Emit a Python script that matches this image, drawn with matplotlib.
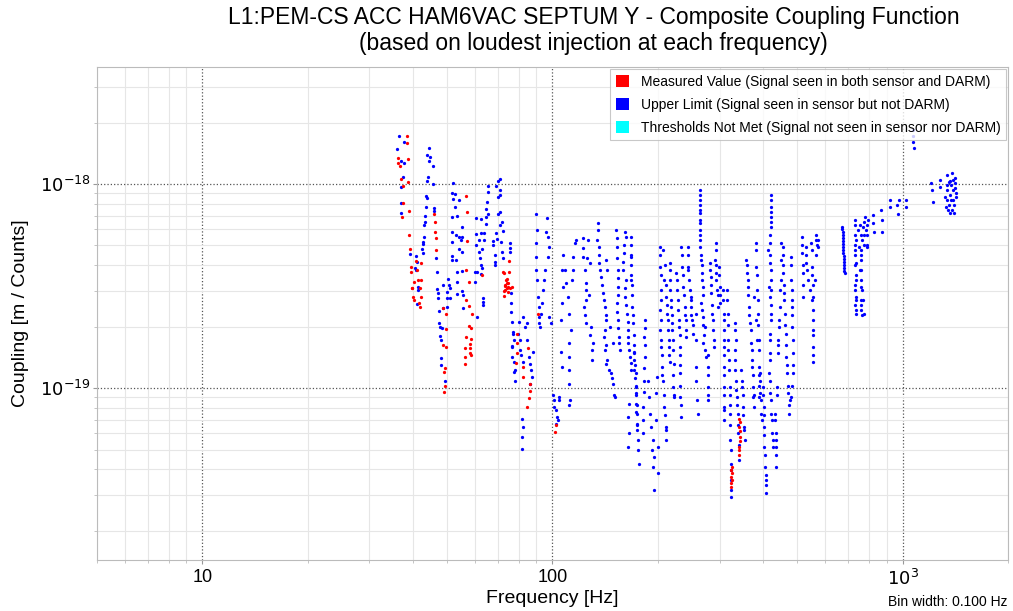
import matplotlib
matplotlib.use("Agg")
import matplotlib.pyplot as plt
from matplotlib.patches import Patch
from matplotlib.ticker import FixedLocator, NullFormatter, LogLocator

plt.rcParams['font.family'] = ['Liberation Sans', 'DejaVu Sans']

title = "L1:PEM-CS ACC HAM6VAC SEPTUM Y - Composite Coupling Function\n(based on loudest injection at each frequency)"
xlabel = "Frequency [Hz]"
ylabel = "Coupling [m / Counts]"
bin_note = "Bin width: 0.100 Hz"
legend_labels = ["Measured Value (Signal seen in both sensor and DARM)",
                 "Upper Limit (Signal seen in sensor but not DARM)",
                 "Thresholds Not Met (Signal not seen in sensor nor DARM)"]
x_ticks = [10, 100, 1000]
x_ticklabels = ["10", "100", "$10^3$"]
y_ticks = [1e-19, 1e-18]
y_ticklabels = ["$10^{-19}$", "$10^{-18}$"]

# Coupling values are in units of 1e-19 m/Counts
meas_freq = [38.4, 38.5, 36.2, 38.6, 36.1, 36.6, 36.8, 37.5, 38.7, 37.3, 37.2, 38.8, 39.0, 39.1, 39.3, 39.5, 40.3, 39.6, 39.8, 41.2, 42.2, 41.7, 40.0, 40.2, 42.0, 41.6, 41.8, 40.8, 42.2, 40.9,
             46.0, 46.1, 46.2, 46.4, 46.4, 48.7, 49.6, 49.5, 48.8, 49.5, 49.2, 48.9, 49.2, 49.0,
             56.8, 56.9, 56.9, 56.8, 57.8, 56.5, 57.8, 58.8, 57.6, 58.6, 56.5, 58.4, 58.0, 56.4, 58.3, 58.2, 56.2, 58.4, 56.1,
             62.7,
             72.4, 75.0, 73.7, 74.5, 73.2, 74.8, 73.9, 72.9, 75.4, 72.6, 75.0, 72.8, 73.4, 76.4, 73.9, 74.3, 73.4, 74.8,
             79.1, 79.3, 79.1, 78.8, 82.6, 82.6, 85.0, 86.0, 86.4, 85.6, 84.5,
             91.0, 102.0, 101.5,
             326.1, 326.1, 325.3, 324.0, 324.6, 324.6, 323.6,
             342.1, 342.1, 343.7, 342.1, 342.1, 343.3, 342.7, 342.7, 342.1]
meas_coup = [17.2, 15.8, 13.4, 13.3, 12.7, 12.2, 10.6, 9.8, 10.2, 8.1, 6.9, 7.4, 5.6, 4.8, 3.9, 3.7, 3.3, 3.1, 3.1, 3.4, 3.4, 3.1, 2.8, 2.7, 2.8, 2.6, 2.5, 4.2, 4.1, 3.8,
             7.10, 6.49, 5.80, 5.46, 4.75, 2.48, 2.30, 1.94, 1.62, 1.59, 1.26, 1.20, 1.02, 0.96,
             8.73, 7.27, 5.27, 3.78, 3.32, 2.70, 2.52, 2.30, 2.02, 1.98, 1.78, 1.75, 1.64, 1.58, 1.57, 1.48, 1.42, 1.45, 1.32,
             3.58,
             3.69, 3.72, 3.38, 3.26, 3.20, 3.14, 3.08, 2.99, 3.08, 2.82, 4.21, 3.65, 3.02, 3.14, 3.27, 3.41, 3.16, 2.96,
             1.85, 1.66, 1.49, 1.33, 1.27, 1.14, 1.58, 1.05, 0.97, 0.89, 0.81,
             2.32, 0.659, 0.611,
             0.411, 0.382, 0.354, 0.328, 0.396, 0.366, 0.342,
             0.710, 0.646, 0.577, 0.516, 0.469, 0.681, 0.616, 0.550, 0.497]

upper_freq = [36.4, 37.7, 36.0, 36.8, 37.6, 37.4, 37.0, 37.0, 37.0, 39.2, 40.8, 40.9, 40.5, 40.7, 41.2, 41.3, 41.1,
              44.3, 43.7, 44.6, 44.5, 45.6, 44.0, 43.7, 45.6, 43.5, 43.9, 43.4, 43.2, 43.2, 42.9, 42.9, 42.6, 42.7, 42.4, 42.8,
              45.8, 45.8, 46.5, 46.7, 46.9, 47.2, 47.2, 47.3, 47.4, 47.6, 48.3, 47.6, 48.1, 47.9, 47.9, 49.2,
              52.1, 51.8, 52.7, 52.1, 53.9, 52.5, 51.8, 53.5, 55.0, 51.7, 52.9, 54.2, 54.7, 55.2, 51.6, 54.1, 55.1, 51.6, 52.9, 51.5, 53.2, 55.3, 53.5, 50.2, 48.7, 50.5, 50.8, 49.8, 50.0, 50.9, 53.3, 55.2, 55.6, 55.6, 48.6, 49.8,
              60.5, 62.6, 64.7, 64.4, 60.3, 62.3, 63.9, 61.6, 63.8, 60.5, 62.8, 61.6, 61.9, 62.4, 62.8, 60.1, 60.8, 62.6, 59.9, 63.2, 63.4, 63.2, 60.8,
              70.6, 69.8, 69.1, 70.6, 70.9, 69.8, 65.6, 65.3, 65.0, 64.7, 65.3, 71.0, 69.8, 71.6, 71.0, 72.1, 69.1, 69.2, 67.5, 71.3, 67.8, 71.6, 68.3, 68.7, 72.1, 68.3,
              75.4, 75.4, 75.4, 75.9, 75.9, 75.9, 76.7, 77.2, 77.4, 76.4, 76.7, 77.5, 77.5, 77.9, 77.0, 76.7, 77.9,
              80.1, 79.8, 80.9, 80.5, 81.2, 82.3, 82.6, 83.7, 84.5, 84.5, 85.6, 86.4, 86.9, 87.5, 87.8, 86.5, 81.9, 82.2, 81.9, 81.9,
              89.8, 90.2, 89.8, 89.8, 89.8, 90.2, 90.8, 91.4, 91.8, 91.4, 96.3, 96.0, 97.0, 97.6, 97.0, 94.9, 94.3, 93.8, 93.5, 92.8, 98.0, 99.2, 92.2,
              100.2, 100.7, 101.3, 102.5, 102.9, 103.5, 104.2, 104.7, 102.0,
              107.0, 106.6, 107.0, 106.6, 106.1, 105.9, 106.6, 108.7, 109.4, 110.6, 111.8, 112.6, 111.8, 111.3, 111.3, 111.8, 112.3, 111.8, 114.3, 115.6, 116.9, 114.8, 113.8,
              122.6, 126.2, 122.1, 125.3, 127.6, 124.8, 127.0, 123.4, 124.3, 129.0, 130.4, 129.8, 134.7, 133.8, 136.2, 135.6, 137.8, 139.2, 140.8, 142.4, 142.4, 142.9, 139.9, 140.8, 141.8, 144.9, 147.2, 148.7, 150.4, 148.7, 145.5,
              152.1, 152.7, 153.7, 153.7, 152.7, 153.7, 154.7, 155.4, 160.6, 162.4, 159.6, 158.8, 161.7, 160.6, 163.5, 164.1, 164.1, 166.0, 167.9, 170.8, 171.5, 172.7, 173.5, 174.2, 164.9, 164.1, 165.2, 164.6,
              167.9, 167.9, 167.9, 169.0, 169.7, 171.5, 172.7, 173.5, 174.2, 175.3, 176.5,
              183.2, 182.8, 184.1, 182.3, 181.1, 181.1,
              187.2, 188.1, 189.3, 191.4, 193.5, 192.7, 193.5, 194.4, 195.6, 197.0, 197.8, 198.6, 199.9, 199.9,
              202.2, 203.1, 204.5, 202.2, 203.1, 204.5, 205.8, 206.6, 208.9, 210.3, 211.3, 206.6, 208.9, 211.3, 212.1, 213.5, 214.9, 215.9, 215.9, 216.9, 218.3, 219.8, 220.7, 221.7, 220.7, 223.1,
              225.6, 227.1, 228.0, 229.5, 231.7, 230.6, 231.7, 233.2, 233.2, 234.8, 235.7, 238.3, 239.9, 241.0, 243.5, 243.5, 245.1, 247.9, 249.0, 250.6, 251.7,
              257.3, 257.3, 258.4, 260.0, 256.2, 257.3, 263.0, 263.0, 263.0, 263.0, 263.0, 264.2, 266.0, 267.0, 268.8, 266.0, 268.8, 271.8, 270.0, 273.6,
              277.7, 277.7, 277.7, 280.9, 284.1, 284.1, 285.9, 287.1, 288.4, 290.3, 293.6, 292.2, 294.7, 296.7, 298.6, 300.0, 301.4,
              306.6, 308.6, 310.0, 310.0, 310.0, 308.6, 310.0, 310.0, 314.8, 316.9, 316.9, 318.3, 320.4, 320.4, 321.9, 324.0, 324.0,
              331.1, 333.3, 331.1, 333.3, 336.2, 338.4, 338.4, 340.6, 346.0, 348.3, 349.7, 351.3, 353.6,
              357.6, 359.0, 361.4, 363.9, 367.2, 369.6, 372.1, 373.5, 377.6, 380.2, 381.9, 384.5, 386.0, 388.5, 388.5, 388.5, 377.6, 381.9, 383.5, 373.5,
              390.3, 392.2, 393.0, 399.0, 400.8, 403.3, 403.3, 405.3, 406.1, 408.0,
              419.8, 419.8, 421.7, 421.7, 416.9, 418.8, 421.7, 418.8, 421.7, 416.9, 418.8, 415.0, 418.8, 421.7, 424.5, 426.1, 412.3, 415.0,
              430.8, 433.7, 435.7, 433.7, 437.5, 440.3, 443.3, 445.2, 448.8, 450.3, 450.3, 455.0, 455.0, 457.1, 460.1, 463.2, 465.3, 467.2, 470.3, 473.4, 475.5, 481.0, 481.0, 482.9, 484.2, 486.1, 486.1, 481.0,
              515.7, 517.0, 519.0, 519.0, 528.4, 530.9, 536.4, 542.3, 548.5, 552.1, 554.3, 554.3, 554.3, 554.3, 560.5, 566.8, 572.8, 572.8,
              672.5, 673.9, 675.1, 675.1, 676.9, 678.2, 678.2, 679.6, 682.8,
              729.2, 734.2, 734.2, 737.6, 734.2, 737.6, 745.4, 750.3, 753.6, 762.3, 770.4, 773.9, 770.4, 778.8, 787.7, 790.7, 796.0, 730.8, 732.8, 729.2, 758.6, 760.1, 762.3, 763.6,
              822.4, 824.7, 826.3, 869.2, 871.0, 872.8, 918.0, 922.5, 963.4, 967.9, 974.3, 1020, 1025,
              1070, 1072, 1073, 1075,
              1208, 1213, 1221, 1276, 1282, 1318, 1327, 1338, 1343, 1347, 1362, 1365, 1369, 1387, 1393, 1395, 1399, 1408, 1413, 1417]
upper_coup = [17.2, 16.0, 14.8, 13.0, 12.6, 10.8, 9.67, 8.10, 7.18, 4.52, 4.42, 4.16, 3.89, 3.79, 3.14, 3.02, 2.58,
              15.0, 13.9, 13.5, 13.0, 12.3, 10.8, 10.3, 9.97, 8.73, 8.57, 7.74, 6.99, 6.54, 6.30, 5.48, 5.21, 5.08, 4.79, 4.57,
              7.65, 7.37, 4.32, 3.69, 3.06, 2.91, 2.75, 2.39, 2.08, 2.00, 1.96, 1.80, 1.72, 1.40, 1.30, 1.08,
              10.1, 9.01, 8.93, 8.44, 8.35, 7.72, 6.92, 6.99, 6.18, 5.84, 5.62, 5.52, 5.31, 5.50, 5.18, 4.80, 4.66, 4.45, 4.24, 4.24, 3.72, 3.76, 3.32, 3.42, 3.20, 3.20, 3.08, 2.97, 2.77, 2.77, 2.89, 2.98, 2.86, 2.48, 2.46, 2.50,
              6.84, 6.74, 6.89, 6.35, 5.67, 5.73, 5.73, 5.31, 5.31, 5.02, 4.80, 4.66, 4.35, 4.01, 3.89, 3.69, 3.69, 3.62, 3.30, 2.77, 2.65, 2.55, 2.23,
              10.6, 10.3, 9.80, 9.35, 8.84, 8.66, 9.80, 9.11, 8.19, 7.54, 7.10, 7.27, 7.10, 6.54, 6.30, 5.88, 5.73, 5.36, 5.25, 5.18, 5.02, 4.66, 4.49, 4.16, 4.35, 4.01,
              5.12, 4.84, 4.66, 2.91, 2.60, 2.37, 2.10, 1.89, 1.73, 1.61, 1.42, 1.35, 1.20, 1.08, 1.85, 1.59, 1.23,
              2.11, 1.85, 1.72, 1.54, 1.45, 1.35, 2.24, 2.00, 2.08, 1.72, 1.42, 1.32, 1.23, 1.14, 1.51, 1.05, 0.710, 0.646, 0.577, 0.506,
              7.13, 5.95, 5.12, 4.40, 3.79, 3.38, 2.80, 2.50, 2.24, 2.08, 6.79, 5.84, 5.52, 4.93, 4.40, 3.79, 3.38, 3.02, 2.60, 2.32, 2.24, 2.08, 2.00,
              0.924, 0.873, 0.810, 0.780, 0.723, 0.697, 0.873, 0.906, 0.671,
              4.49, 3.79, 3.14, 2.60, 2.15, 1.51, 1.27, 3.79, 3.26, 2.80, 2.32, 1.92, 1.66, 1.42, 1.23, 1.05, 0.873, 0.825, 4.40, 5.12, 5.31, 3.79, 3.38,
              5.42, 5.31, 4.40, 4.32, 4.09, 3.26, 2.86, 2.50, 2.08, 2.00, 1.66, 1.37, 6.42, 5.31, 4.93, 4.09, 3.51, 2.91, 2.50, 2.15, 4.24, 3.79, 1.78, 1.54, 1.32, 1.23, 1.18, 1.05, 0.906, 1.66, 2.00,
              5.95, 4.93, 3.79, 3.14, 2.60, 2.15, 1.78, 1.54, 5.84, 5.52, 4.57, 3.79, 3.38, 2.80, 2.32, 1.92, 1.66, 1.42, 1.23, 1.51, 1.23, 1.01, 0.841, 0.671, 0.841, 0.723, 0.600, 0.516,
              5.52, 4.40, 3.38, 2.50, 2.08, 1.48, 1.18, 0.942, 0.751, 0.556, 0.427,
              2.15, 1.78, 1.42, 1.09, 0.810, 0.600,
              1.09, 0.906, 0.751, 0.646, 0.556, 0.497, 0.411, 0.316, 0.460, 0.697, 0.942, 1.14, 0.516, 0.382,
              4.93, 3.93, 3.02, 2.41, 1.92, 1.59, 1.27, 1.09, 0.810, 0.646, 0.556, 4.75, 3.38, 2.80, 2.32, 1.92, 1.59, 1.35, 4.09, 3.38, 2.50, 2.08, 1.72, 1.32, 1.01, 0.906,
              3.65, 3.02, 2.41, 2.00, 1.59, 1.18, 0.906, 0.723, 4.93, 3.93, 3.14, 2.50, 2.15, 1.78, 4.93, 3.93, 3.38, 2.80, 2.50, 2.15, 1.85,
              1.27, 1.09, 0.873, 0.751, 1.72, 2.32, 9.35, 7.89, 7.18, 6.42, 5.62, 4.93, 4.24, 3.65, 3.14, 2.60, 2.24, 2.00, 1.66, 1.42,
              1.27, 1.01, 0.873, 4.09, 3.51, 2.91, 2.32, 1.92, 1.59, 4.24, 5.12, 3.65, 3.02, 2.50, 3.93, 3.14, 2.60,
              3.02, 2.32, 1.92, 1.59, 1.27, 1.01, 0.810, 0.697, 3.02, 2.32, 1.72, 1.37, 1.01, 0.751, 0.556, 0.427, 0.293,
              2.08, 1.72, 1.37, 1.09, 0.906, 0.751, 0.600, 0.444, 1.23, 1.01, 0.810, 0.646, 0.556,
              4.24, 3.65, 3.14, 2.50, 2.08, 1.66, 1.27, 1.01, 0.810, 5.12, 3.93, 3.02, 2.32, 1.72, 1.27, 0.906, 2.80, 2.15, 1.72, 0.906,
              1.18, 0.942, 0.751, 1.01, 0.810, 0.646, 0.516, 0.411, 0.305, 0.354,
              8.84, 7.74, 6.92, 6.18, 5.12, 4.09, 3.38, 2.80, 2.32, 1.85, 1.48, 1.18, 0.942, 0.751, 0.600, 0.516, 4.75, 3.14,
              0.751, 0.600, 0.516, 0.411, 1.01, 1.48, 2.00, 2.50, 3.38, 5.12, 4.24, 4.93, 3.65, 2.91, 2.32, 1.85, 1.42, 1.18, 0.942, 0.751, 0.873, 4.40, 3.38, 2.50, 2.00, 1.48, 1.18, 0.906,
              5.52, 4.57, 3.65, 2.80, 4.93, 4.09, 3.38, 3.02, 5.12, 3.93, 2.80, 2.15, 1.59, 1.35, 3.38, 5.62, 5.31, 4.93,
              6.18, 5.82, 5.44, 5.08, 4.75, 4.44, 4.15, 3.88, 3.66,
              6.66, 5.31, 4.09, 3.38, 2.80, 2.32, 5.95, 4.93, 3.79, 3.14, 2.70, 2.32, 6.18, 6.92, 5.95, 4.93, 6.66, 4.75, 3.02, 2.55, 4.49, 2.70, 2.41, 5.31,
              7.05, 6.44, 5.84, 7.46, 6.66, 5.84, 8.35, 7.74, 7.89, 7.13, 8.35, 8.35, 7.69,
              18.4, 17.2, 16.1, 15.0,
              10.08, 9.35, 8.19, 10.5, 9.70, 8.66, 7.74, 11.1, 9.35, 7.46, 10.4, 8.84, 7.18, 11.3, 9.35, 8.35, 7.18, 10.7, 9.57, 8.66]

# further upper-limit points read along the dense vertical streaks
upper_freq_dense = [168.1, 168.1, 168.1, 168.1, 168.7, 168.7, 169.3, 170.4, 170.4, 172.1, 173.3, 173.8, 174.4, 175.5,
                    202.9, 203.5, 203.5, 203.5, 204.2, 204.9, 205.6, 207.6, 209.6, 210.3,
                    209.6, 210.3, 211.7, 213.1, 214.5, 215.2, 215.9, 217.3, 218.0, 218.8, 220.2, 220.9, 220.9, 222.4,
                    226.1, 227.6, 229.1, 230.6, 231.4, 230.6, 231.4, 232.1, 234.8, 236.1, 237.6, 239.1, 240.4,
                    243.8, 244.6, 247.1, 247.9, 249.5, 251.2,
                    263.0, 263.0, 263.0, 263.0, 263.0, 263.9, 264.8, 266.5, 267.4, 268.3, 266.5, 270.0, 270.9, 272.7,
                    281.8, 283.7, 284.6, 286.5, 288.4, 278.1, 278.1, 278.1, 292.2, 292.2, 294.1, 296.1, 299.0, 300.0,
                    307.0, 309.0, 310.0, 310.0, 309.0, 310.0, 310.0, 315.2, 316.2, 317.3, 319.3, 320.4, 320.4, 321.5, 322.6, 323.6, 323.6, 324.0,
                    332.2, 332.2, 332.2, 334.4, 336.6, 338.8, 340.0, 346.7, 349.0, 350.1, 352.5,
                    358.3, 360.7, 361.9, 365.4, 368.0, 370.4, 371.6, 372.8, 375.2,
                    380.2, 382.8, 385.3, 386.5, 387.8, 387.8, 387.8,
                    391.7, 393.0, 395.6, 399.5, 400.8, 403.3, 404.7, 406.1, 407.4,
                    419.8, 421.1, 421.1, 418.2, 418.2, 419.8, 419.8, 419.8, 419.8, 418.2, 418.2, 418.2, 419.8, 422.5, 425.3,
                    436.5, 432.3, 435.2, 433.7, 440.9,
                    454.1, 455.6, 457.1, 458.6, 461.7, 464.7, 466.3, 469.3, 472.5, 446.7, 443.7, 442.2,
                    481.0, 481.9, 482.9, 483.5, 485.1, 486.1, 483.5,
                    516.4, 518.0, 519.0, 529.3, 533.5, 551.3, 553.2, 554.3, 554.3, 554.3, 549.5, 551.3, 553.2, 564.1, 567.9, 566.1,
                    672.5, 674.7, 675.1, 676.1, 677.3, 678.2, 679.0, 680.8,
                    729.2, 730.8, 731.6, 730.8, 732.8, 734.2, 732.8, 734.2, 736.4, 756.1, 758.6, 760.1, 758.6, 761.1, 760.1, 763.6, 762.3, 763.6,
                    773.9, 775.2, 773.9, 790.7, 791.8, 790.7,
                    1336, 1341, 1353, 1358, 1371, 1376, 1380, 1389, 1399, 1413, 1417,
                    122.2, 123.8, 124.5, 124.7, 123.8, 128.4, 129.7,
                    134.5, 135.8, 136.7, 138.5, 139.9, 141.8, 140.8, 142.3, 142.8,
                    147.9, 149.4,
                    152.4, 153.2, 153.7, 153.4, 153.2, 153.9, 154.9,
                    160.1, 159.0, 161.1, 162.2, 163.8, 164.1, 165.4, 167.1,
                    171.2, 172.1, 173.0, 173.6, 173.8,
                    183.2, 183.5, 182.6, 182.0, 181.4]
upper_coup_dense = [5.02, 4.49, 4.01, 3.58, 3.20, 2.86, 2.28, 1.82, 1.62, 1.30, 1.03, 0.825, 0.659, 0.497,
                    4.49, 3.58, 2.70, 2.15, 1.72, 1.45, 1.16, 0.924, 0.737, 0.622,
                    4.01, 3.20, 2.55, 2.15, 1.72, 1.45, 3.79, 3.02, 2.70, 2.28, 1.92, 1.54, 1.16, 0.924,
                    3.38, 2.70, 2.15, 1.82, 1.45, 1.30, 1.03, 0.825, 4.49, 3.58, 2.86, 2.28, 1.92,
                    4.49, 3.79, 3.02, 2.70, 2.28, 2.04,
                    8.84, 8.35, 7.46, 6.66, 5.95, 5.31, 4.49, 4.01, 3.38, 2.86, 2.41, 2.04, 1.82, 1.54,
                    3.79, 3.20, 2.55, 2.15, 1.72, 1.45, 1.16, 0.924, 4.75, 4.01, 3.38, 2.86, 3.58, 2.86,
                    2.70, 2.15, 1.72, 1.45, 1.16, 0.924, 0.780, 2.70, 2.04, 1.54, 1.23, 0.924, 0.825, 0.659, 0.497, 0.396, 0.354, 0.316,
                    1.92, 1.54, 1.23, 0.978, 0.825, 0.659, 0.525, 1.09, 0.924, 0.737, 0.622,
                    4.01, 3.38, 2.86, 2.28, 1.92, 1.54, 1.37, 1.16, 0.924,
                    4.75, 3.58, 2.70, 2.04, 1.54, 1.16, 1.03,
                    1.09, 0.873, 0.697, 0.924, 0.737, 0.588, 0.469, 0.375, 0.334,
                    8.35, 7.30, 6.51, 5.62, 4.49, 3.79, 3.02, 2.55, 2.15, 1.72, 1.37, 1.09, 0.873, 0.697, 0.556,
                    0.924, 0.697, 0.556, 0.469, 1.62,
                    4.49, 4.01, 3.20, 2.70, 2.04, 1.62, 1.30, 1.03, 0.825, 3.02, 2.15, 1.72,
                    4.01, 3.02, 2.70, 2.28, 1.72, 1.30, 1.03,
                    5.02, 4.01, 3.20, 4.49, 3.79, 2.70, 2.41, 1.92, 1.82, 1.45, 4.75, 3.58, 3.20, 4.49, 5.02, 5.31,
                    6.02, 5.62, 5.25, 4.91, 4.59, 4.29, 4.01, 3.75,
                    6.30, 5.62, 5.02, 4.49, 4.01, 3.58, 3.20, 2.70, 2.41, 6.30, 5.62, 4.75, 4.24, 3.79, 3.38, 3.02, 2.55, 2.28,
                    6.51, 5.62, 5.02, 6.30, 5.62, 5.02,
                    9.89, 8.35, 10.2, 7.89, 9.89, 8.35, 7.46, 10.5, 7.89, 10.1, 9.03,
                    4.86, 3.79, 3.02, 2.70, 2.28, 1.82, 1.54,
                    5.95, 4.49, 3.79, 3.20, 2.70, 2.28, 1.92, 1.62, 1.37,
                    1.12, 0.924,
                    5.44, 4.34, 3.46, 2.86, 2.36, 1.97, 1.66,
                    5.02, 4.15, 3.09, 2.55, 2.11, 1.78, 1.54, 1.33,
                    1.37, 1.12, 0.924, 0.763, 0.622,
                    1.97, 1.62, 1.25, 0.956, 0.697]

COLOR_MEAS = '#ff0000'
COLOR_UL = '#0000ff'
COLOR_TNM = '#00ffff'

fig = plt.figure(figsize=(10.13, 6.11), dpi=100)
ax = fig.add_axes([0.0958, 0.0835, 0.8992, 0.8068])

ul_f = upper_freq + upper_freq_dense
ul_c = [c * 1e-19 for c in upper_coup + upper_coup_dense]
ax.scatter(ul_f, ul_c, s=5.5, c=COLOR_UL, marker='o', linewidths=0, zorder=3)
ax.scatter(meas_freq, [c * 1e-19 for c in meas_coup], s=5.5, c=COLOR_MEAS, marker='o', linewidths=0, zorder=4)

ax.set_xscale('log')
ax.set_yscale('log')
ax.set_xlim(5, 2000)
ax.set_ylim(1.44e-20, 3.74e-18)

ax.grid(True, which='minor', color='#e6e6e6', linestyle='-', linewidth=0.8, zorder=0)
ax.grid(True, which='major', color='#555555', linestyle=':', linewidth=0.9, zorder=1)
ax.set_axisbelow(True)

ax.xaxis.set_major_locator(FixedLocator(x_ticks))
ax.set_xticklabels(x_ticklabels)
ax.yaxis.set_major_locator(FixedLocator(y_ticks))
ax.set_yticklabels(y_ticklabels)
ax.xaxis.set_minor_locator(LogLocator(base=10, subs=range(2, 10)))
ax.yaxis.set_minor_locator(LogLocator(base=10, subs=range(2, 10)))
ax.xaxis.set_minor_formatter(NullFormatter())
ax.yaxis.set_minor_formatter(NullFormatter())
ax.tick_params(axis='both', which='major', labelsize=13, length=3, color='#999999', direction='out')
ax.tick_params(axis='y', which='major', pad=1.5)
ax.tick_params(axis='both', which='minor', length=2, color='#bbbbbb')

for sp in ax.spines.values():
    sp.set_color('#bbbbbb')

fig.text(0.586, 1 - 30.5 / 611, title, ha='center', va='center', fontsize=16.5, linespacing=1.2)
ax.set_xlabel(xlabel, fontsize=14)
ax.xaxis.set_label_coords(0.5, -0.06)
ax.set_ylabel(ylabel, fontsize=14, labelpad=8)

handles = [Patch(facecolor=COLOR_MEAS, edgecolor='none'),
           Patch(facecolor=COLOR_UL, edgecolor='none'),
           Patch(facecolor=COLOR_TNM, edgecolor='none')]
leg = ax.legend(handles, legend_labels, loc='upper right', fontsize=10, frameon=True,
                fancybox=False, edgecolor='#bbbbbb', handlelength=1.0, handleheight=0.9,
                borderaxespad=0.15, labelspacing=0.65)
leg.get_frame().set_linewidth(0.8)

fig.text(0.995, 0.004, bin_note, ha='right', va='bottom', fontsize=10)

fig.savefig('out.png', dpi=100)
